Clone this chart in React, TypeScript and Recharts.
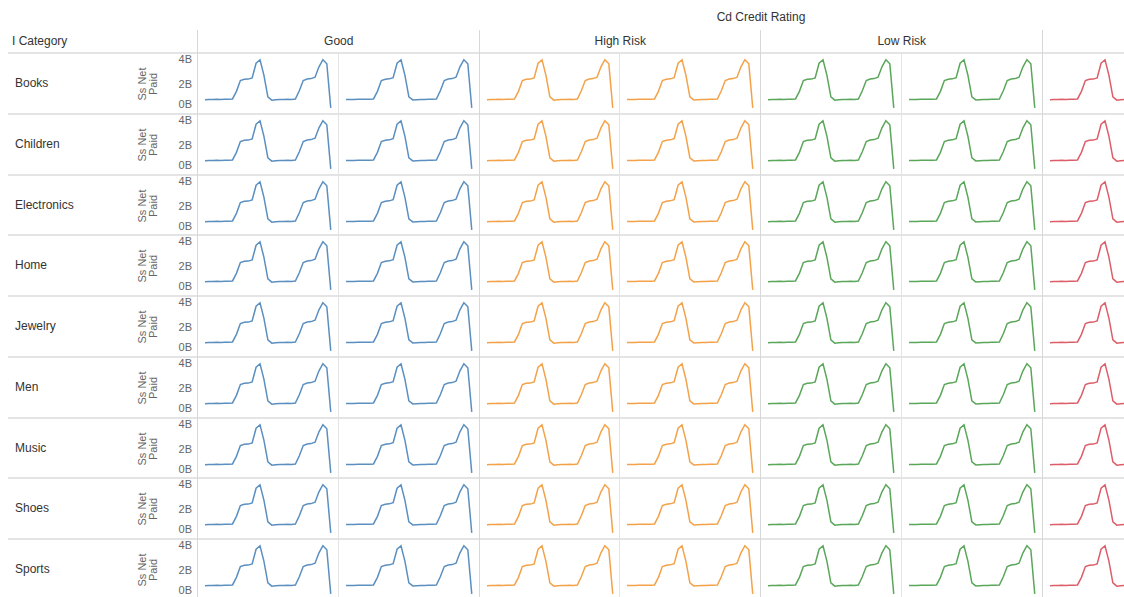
import { LineChart, Line, XAxis, YAxis } from "recharts";

const categories = ["Books", "Children", "Electronics", "Home", "Jewelry", "Men", "Music", "Shoes", "Sports"];
const creditRatings = ["Good", "High Risk", "Low Risk", "Unknown"];
const ratingColors = ["#5b8fc0", "#f3a24a", "#5aa65a", "#dc5e68"];

// y axis, billions
const yTicks = [0, 2, 4];
const yTickLabels = ["0B", "2B", "4B"];

// time index inside one pane
const weeks = [0, 1, 2, 3, 4, 5, 6, 7, 8, 9, 10, 11, 12, 13, 14, 15, 16, 17, 18, 19, 20, 21, 22, 23, 24, 25, 26, 27, 28, 29, 30, 31, 32];

// Ss Net Paid (B) - left pane of each rating, then right pane
const netPaidFirst = [0.72, 0.74, 0.73, 0.75, 0.74, 0.76, 0.75, 0.78, 1.4, 2.28, 2.38, 2.4, 2.5, 3.7, 3.98, 2.7, 0.95, 0.68, 0.72, 0.74, 0.73, 0.75, 0.74, 0.77, 1.45, 2.28, 2.4, 2.44, 2.55, 3.4, 3.98, 3.65, 0.05];
const netPaidSecond = [0.73, 0.74, 0.74, 0.75, 0.75, 0.76, 0.76, 0.78, 1.4, 2.28, 2.38, 2.42, 2.52, 3.7, 3.98, 2.7, 0.95, 0.7, 0.72, 0.73, 0.74, 0.75, 0.75, 0.77, 1.45, 2.28, 2.4, 2.44, 2.55, 3.4, 3.98, 3.65, 0.05];

const data = weeks.map((w, i) => ({ week: w, first: netPaidFirst[i], second: netPaidSecond[i] }));

const FONT = "'Liberation Sans', Arial, sans-serif";
const GRID = "#e4e4e4";
const PANE_X0 = 198;
const PANE_W = 140.75;
const ROW_Y0 = 53;
const ROW_H = 60.75;
const AXIS_W = 40;
const PAGE_W = 1124;

function AxisTick(props: any) {
  const { x, y, payload } = props;
  const yy = Math.min(y, 50);
  return (
    <text x={x} y={yy} dy="0.35em" textAnchor="end" fontSize={11} fill="#666" fontFamily={FONT}>
      {yTickLabels[yTicks.indexOf(payload.value)]}
    </text>
  );
}

function Pane({ left, top, color, dataKey, withAxis }: any) {
  const w = withAxis ? PANE_W + AXIS_W : PANE_W;
  return (
    <div style={{ position: "absolute", left: withAxis ? left - AXIS_W : left, top }}>
      <LineChart width={w} height={60} data={data} margin={{ top: 0, right: 0, bottom: 0, left: 0 }}>
        <XAxis type="number" dataKey="week" domain={[0, 32]} hide padding={{ left: 7, right: 8 }} />
        <YAxis
          type="number"
          domain={[-0.45, 4.45]}
          ticks={yTicks}
          interval={0}
          hide={!withAxis}
          width={AXIS_W}
          axisLine={false}
          tickLine={false}
          tickSize={0}
          tickMargin={6}
          tick={<AxisTick />}
        />
        <Line
          type="linear"
          dataKey={dataKey}
          stroke={color}
          strokeWidth={1.5}
          dot={false}
          isAnimationActive={false}
        />
      </LineChart>
    </div>
  );
}

export default function App() {
  const panes: any[] = [];
  categories.forEach((cat, r) => {
    const top = ROW_Y0 + r * ROW_H + 1;
    creditRatings.forEach((rating, c) => {
      ["first", "second"].forEach((key, s) => {
        const col = c * 2 + s;
        const left = PANE_X0 + col * PANE_W;
        if (left > PAGE_W) return;
        panes.push(
          <Pane
            key={cat + rating + key}
            left={left}
            top={top}
            color={ratingColors[c]}
            dataKey={key}
            withAxis={col === 0}
          />
        );
      });
    });
  });

  return (
    <div
      style={{
        position: "absolute",
        left: 0,
        top: 0,
        width: PAGE_W,
        height: 597,
        overflow: "hidden",
        background: "#fff",
        fontFamily: FONT,
        color: "#333",
      }}
    >
      {/* horizontal row lines */}
      {categories.map((cat, r) => (
        <div
          key={"h" + cat}
          style={{ position: "absolute", left: 8, top: ROW_Y0 + r * ROW_H - 1, width: 1116, height: 2, background: GRID }}
        />
      ))}
      {/* vertical separators */}
      {creditRatings.map((rating, c) => (
        <div key={"v" + rating}>
          <div
            style={{ position: "absolute", left: PANE_X0 + c * 2 * PANE_W - 1, top: 30, width: 1, height: 567, background: "#d8d8d8" }}
          />
          <div
            style={{ position: "absolute", left: PANE_X0 + (c * 2 + 1) * PANE_W - 1, top: ROW_Y0, width: 1, height: 544, background: GRID }}
          />
        </div>
      ))}

      {/* headers */}
      <div style={{ position: "absolute", left: 12, top: 34, fontSize: 12 }}>I Category</div>
      <div
        style={{
          position: "absolute",
          left: PANE_X0,
          width: creditRatings.length * 2 * PANE_W,
          top: 10,
          textAlign: "center",
          fontSize: 12,
        }}
      >
        Cd Credit Rating
      </div>
      {creditRatings.map((rating, c) => {
        const center = PANE_X0 + (c * 2 + 1) * PANE_W;
        if (center + 30 > PAGE_W) return null;
        return (
          <div
            key={"t" + rating}
            style={{
              position: "absolute",
              left: PANE_X0 + c * 2 * PANE_W,
              width: 2 * PANE_W,
              top: 34,
              textAlign: "center",
              fontSize: 12,
            }}
          >
            {rating}
          </div>
        );
      })}

      {/* row labels and axis titles */}
      {categories.map((cat, r) => {
        const mid = ROW_Y0 + r * ROW_H + 31;
        return (
          <div key={"l" + cat}>
            <div style={{ position: "absolute", left: 15, top: mid - 8, fontSize: 12 }}>{cat}</div>
            <div
              style={{
                position: "absolute",
                left: 148 - 30,
                top: mid - 11,
                width: 60,
                height: 22,
                transform: "rotate(-90deg)",
                textAlign: "center",
                fontSize: 11,
                lineHeight: "11px",
                color: "#666",
              }}
            >
              Ss Net
              <br />
              Paid
            </div>
          </div>
        );
      })}

      {panes}
    </div>
  );
}
